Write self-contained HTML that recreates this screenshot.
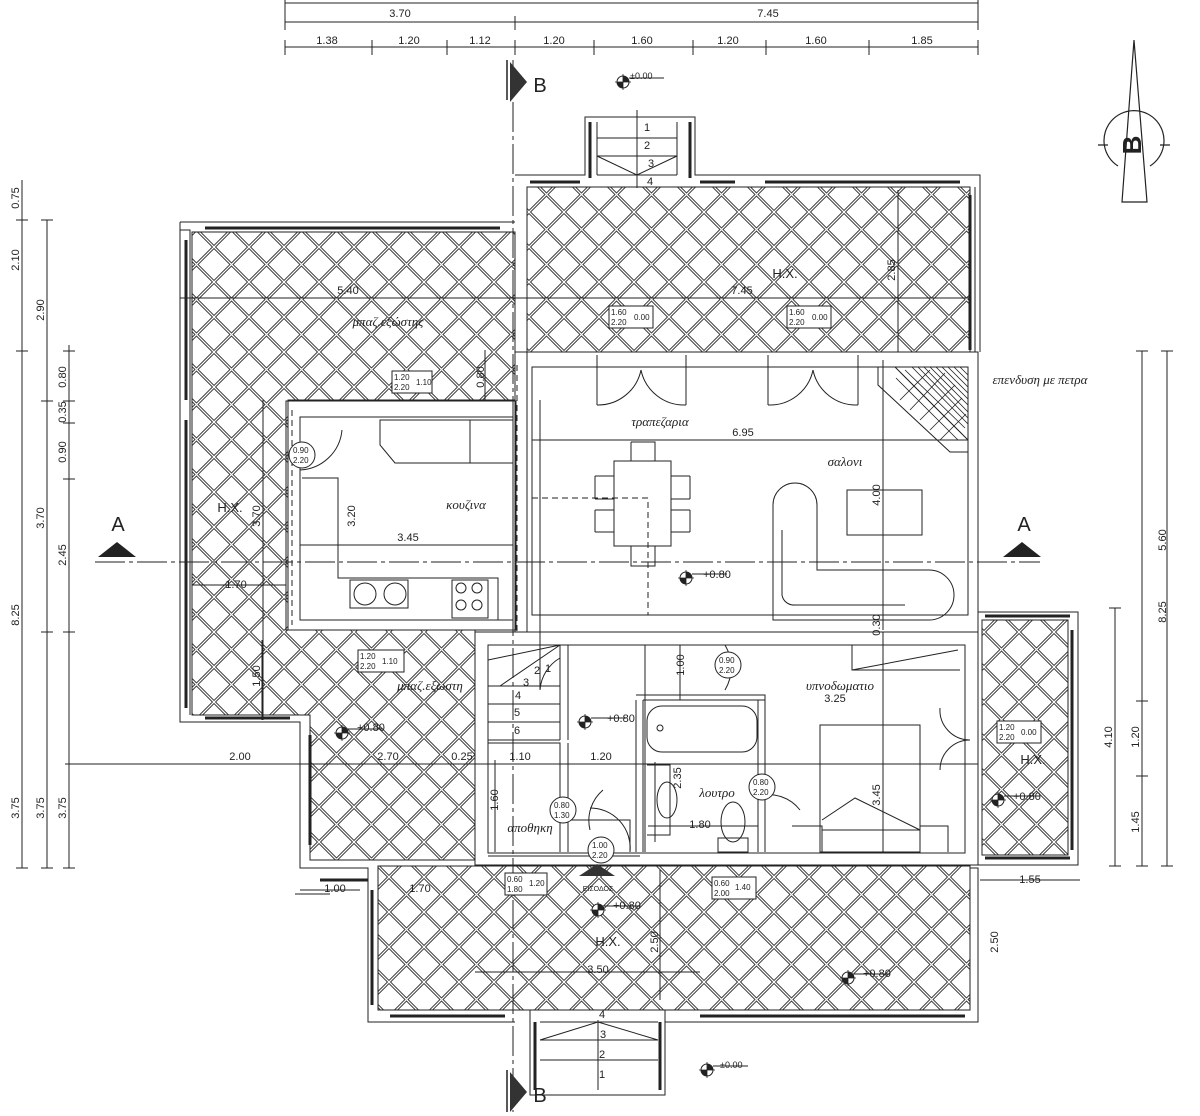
<!DOCTYPE html>
<html><head><meta charset="utf-8"><style>
html,body{margin:0;padding:0;background:#fff;}
svg{display:block;}
text{font-family:"Liberation Sans",sans-serif;fill:#222;}
.g{font-family:"Liberation Serif","DejaVu Serif",serif;font-style:italic;}
</style></head><body>
<svg width="1200" height="1116" viewBox="0 0 1200 1116" xmlns="http://www.w3.org/2000/svg">
<defs>
<pattern id="h" width="35" height="35" patternUnits="userSpaceOnUse" x="4" y="2">
<path d="M0,0L35,35M35,0L0,35M-5,30L5,40M30,-5L40,5M-5,5L5,-5M30,40L40,30" stroke="#3a3a3a" stroke-width="3.2" fill="none"/>
<path d="M0,0L35,35M35,0L0,35M-5,30L5,40M30,-5L40,5M-5,5L5,-5M30,40L40,30" stroke="#fff" stroke-width="1.2" fill="none"/>
</pattern>
<g id="lv"><circle r="6" fill="#fff" stroke="#222"/><path d="M0,-6A6,6 0 0 1 6,0H0Z M0,6A6,6 0 0 1 -6,0H0Z" fill="#222"/><path d="M-8,0H8M0,-8V8" stroke="#222" stroke-width="0.8"/></g>
</defs>
<g fill="none" stroke="#222" stroke-width="1">
<path fill="url(#h)" stroke="#222" d="M527,187H970V352H527Z"/>
<path fill="url(#h)" stroke="#222" d="M192,232H515V400H288V630H475V860H310V715H192Z"/>
<path fill="url(#h)" stroke="#222" d="M378,866H970V1010H378Z"/>
<path fill="url(#h)" stroke="#222" d="M982,620H1068V855H982Z"/>
<path d="M180,222H515M192,232V715M180,222V722H300V868H368V1022H515M180,230H190V715"/>
<path d="M192,232H515" />
<path stroke-width="3" d="M205,228H500M186,240V400M186,420V708M205,718H290M310,735V845M320,880H368M372,890V1005M390,1016H505M700,1016H965"/>
<path d="M515,175H585V117H695V175H980V352M585,117V175M695,117V175M975,187V352"/>
<path stroke-width="3" d="M530,182H580M590,122V178M690,122V178M700,182H735M765,182H960M970,195V350"/>
<path d="M515,1010H530V1095H665V1010H970V868H978V1022H665M530,1022V1095"/>
<path stroke-width="3" d="M535,1022V1090M660,1022V1090"/>
<path d="M978,612H1078V865H978M1068,620V855"/>
<path stroke-width="3" d="M985,616H1070M1072,630V850M985,858H1070"/>
<rect x="286" y="401" width="230" height="229"/>
<rect x="300" y="417" width="213" height="203"/>
<rect x="515" y="352" width="463" height="280"/>
<rect x="532" y="367" width="436" height="248"/>
<rect x="475" y="632" width="503" height="233"/>
<rect x="488" y="645" width="477" height="208"/>
<path d="M515,352V632M527,352V632"/>
<path d="M643,700H758V852M643,700V852M636,700V852M636,695H765V852M758,700H765"/>
<path d="M488,743H560V852M560,743V852M568,743V852M568,820H630V852M630,820V852"/>
<path d="M560,645V740M568,645V740M488,740H560"/>
<path d="M488,645V740M488,686H560M488,704H560M488,722H560M560,645L488,660M560,645L500,686M560,645L525,645"/>
<path d="M540,690A40,40 0 0 1 560,658"/>
<path d="M597,122V175M677,122V175M597,138H677M597,156H677M597,156L637,175L677,156M637,110V188M597,175H677"/>
<path d="M540,1022H658M540,1040H658M540,1060H658M540,1040L598,1022L658,1040M598,1020V1090"/>
<path d="M380,420H513V463H395L380,445Z M470,420V463 M302,478H338V578H498V620 M338,478V578 M350,580H408V608H350Z M452,580H488V618H452Z"/>
<circle cx="365" cy="594" r="11"/><circle cx="395" cy="594" r="11"/>
<circle cx="461" cy="588" r="5"/><circle cx="477" cy="588" r="5"/><circle cx="461" cy="605" r="5"/><circle cx="477" cy="605" r="5"/>
<rect x="614" y="461" width="57" height="85"/>
<path d="M631,442H655V461M631,442V461M631,546V566H655V546M595,476H614M595,499H614M595,510H614M595,532H614M671,476H690M671,499H690M671,510H690M671,532H690M595,476V499M595,510V532M690,476V499M690,510V532"/>
<path stroke-dasharray="6,4" d="M532,498H648V615M517,365V632M292,410V625"/>
<path d="M773,620H929A17,17 0 0 0 929,570H817V505A22,22 0 0 0 773,505Z M782,530V595A12,12 0 0 0 795,605H905"/>
<rect x="847" y="490" width="75" height="45"/>
<path d="M878,367V385L950,452H968M895,367L968,440"/>
<path stroke-width="0.8" d="M900,372L962,434M905,370L965,428M912,367L968,424M918,367L968,418M924,367L968,412M930,367L968,405M936,367L968,399M942,367L968,393M948,367L968,387M954,367L968,381M960,367L968,375M896,378L958,440"/>
<path stroke-width="0.8" d="M900,400L930,370M910,410L945,373M920,420L955,385M930,430L962,398M940,440L966,414"/>
<path d="M597,355V405M686,355V405M768,355V405M858,355V405"/>
<path d="M597,405A44,44 0 0 0 641,370M686,405A44,44 0 0 1 641,370M768,405A44,44 0 0 0 813,370M858,405A44,44 0 0 1 813,370"/>
<rect x="647" y="706" width="110" height="46" rx="15"/>
<circle cx="660" cy="728" r="3"/>
<path d="M647,765H670V835H647M655,765V835"/>
<ellipse cx="667" cy="800" rx="10" ry="18"/>
<ellipse cx="733" cy="822" rx="12" ry="20"/>
<rect x="718" y="838" width="30" height="14"/>
<rect x="820" y="725" width="100" height="127"/>
<path d="M822,820L855,798L920,830M822,830H920M792,826H822V852M920,826H948V852M852,645H960M852,645V670H960"/>
<path d="M852,670L958,650"/>
<path d="M342,430A44,44 0 0 1 300,470"/>
<path d="M725,645A44,44 0 0 1 725,690M758,796A40,40 0 0 1 800,810M590,830A40,40 0 0 1 603,790M590,808A40,40 0 0 1 630,852M940,708A30,30 0 0 0 970,740M940,770A30,30 0 0 1 970,740"/>
<path d="M285,3H978M285,22H978M285,47H978"/>
<path d="M285,0V30M515,16V30M978,0V30M285,40V55M372,40V55M447,40V55M515,40V55M594,40V55M693,40V55M766,40V55M869,40V55M978,40V55"/>
<path d="M22,180V868M47,220V868M69,345V868M16,220H28M16,351H28M16,868H28M41,220H53M41,401H53M41,632H53M41,868H53M63,351H75M63,401H75M63,423H75M63,479H75M63,632H75M63,868H75"/>
<path d="M1115,608V866M1142,351V866M1167,351V866M1109,608H1121M1109,866H1121M1136,351H1148M1136,701H1148M1136,776H1148M1136,866H1148M1161,351H1173M1161,866H1173"/>
<path d="M180,298H515M515,298H970M532,440H968M300,545H513M192,585H286M65,764H978M300,890H360M475,972H700M295,894H330M980,880H1080"/>
<path d="M898,190V352M883,360V630M883,632V852M495,760V852M488,856H640M540,400V690M645,645V852M648,826H758M263,400V720M262,640V720M485,350V400M655,762V842M680,645V700M660,870V1000"/>
<path stroke-dasharray="30,4,4,4" d="M513,60V1112M95,562H1040"/>
<path stroke-width="1.5" d="M507,60V100M507,1070V1112"/>
</g>
<polygon points="510,62 527,82 510,102" fill="#333"/>
<polygon points="510,1072 527,1092 510,1112" fill="#333"/>
<polygon points="98,557 117,542 136,557" fill="#222"/>
<polygon points="1003,557 1022,542 1041,557" fill="#222"/>
<polygon points="579,876 597,864 615,876" fill="#333"/>
<g fill="none" stroke="#222" stroke-width="1.2">
<polygon points="1134,40 1122,202 1147,202" fill="#fff"/>
<path d="M1118,166A30,30 0 1 1 1150,166M1098,145H1108M1160,145H1170"/>
</g>
<text x="1134" y="152" font-size="26" font-weight="bold" text-anchor="middle" transform="rotate(-90 1134 145)">B</text>
<use href="#lv" x="623" y="82"/><use href="#lv" x="342" y="733"/><use href="#lv" x="585" y="722"/><use href="#lv" x="686" y="578"/><use href="#lv" x="998" y="800"/><use href="#lv" x="598" y="910"/><use href="#lv" x="848" y="978"/><use href="#lv" x="707" y="1070"/>
<g stroke="#222" fill="none">
<path d="M629,78H664M348,729H383M591,718H626M692,574H727M1004,796H1040M604,906H640M854,974H890M713,1066H748"/>
</g>
<g font-size="11" text-anchor="middle">
<text x="400" y="17">3.70</text><text x="768" y="17">7.45</text>
<text x="327" y="44">1.38</text><text x="409" y="44">1.20</text><text x="480" y="44">1.12</text><text x="554" y="44">1.20</text><text x="642" y="44">1.60</text><text x="728" y="44">1.20</text><text x="816" y="44">1.60</text><text x="922" y="44">1.85</text>
<text x="348" y="294">5.40</text><text x="742" y="294">7.45</text><text x="743" y="436">6.95</text><text x="408" y="541">3.45</text><text x="236" y="588">1.70</text>
<text x="240" y="760">2.00</text><text x="388" y="760">2.70</text><text x="462" y="760">0.25</text><text x="520" y="760">1.10</text><text x="601" y="760">1.20</text>
<text x="700" y="828">1.80</text><text x="835" y="702">3.25</text>
<text x="335" y="892">1.00</text><text x="420" y="892">1.70</text><text x="598" y="973">3.50</text><text x="1030" y="883">1.55</text>
<text x="630" y="79" font-size="9" text-anchor="start">±0.00</text><text x="720" y="1068" font-size="9" text-anchor="start">±0.00</text>
<text x="607" y="722" text-anchor="start">+0.80</text><text x="703" y="578" text-anchor="start">+0.80</text><text x="357" y="731" text-anchor="start">+0.80</text><text x="1013" y="800" text-anchor="start">+0.80</text><text x="613" y="909" text-anchor="start">+0.80</text><text x="863" y="977" text-anchor="start">+0.80</text>
</g>
<g font-size="11" text-anchor="middle">
<text transform="translate(19,198) rotate(-90)">0.75</text><text transform="translate(19,260) rotate(-90)">2.10</text><text transform="translate(19,615) rotate(-90)">8.25</text><text transform="translate(19,808) rotate(-90)">3.75</text>
<text transform="translate(44,310) rotate(-90)">2.90</text><text transform="translate(44,518) rotate(-90)">3.70</text><text transform="translate(44,808) rotate(-90)">3.75</text>
<text transform="translate(66,377) rotate(-90)">0.80</text><text transform="translate(66,412) rotate(-90)">0.35</text><text transform="translate(66,452) rotate(-90)">0.90</text><text transform="translate(66,555) rotate(-90)">2.45</text><text transform="translate(66,808) rotate(-90)">3.75</text>
<text transform="translate(1166,540) rotate(-90)">5.60</text><text transform="translate(1166,612) rotate(-90)">8.25</text><text transform="translate(1112,737) rotate(-90)">4.10</text><text transform="translate(1139,737) rotate(-90)">1.20</text><text transform="translate(1139,822) rotate(-90)">1.45</text>
<text transform="translate(895,270) rotate(-90)">2.85</text><text transform="translate(880,495) rotate(-90)">4.00</text><text transform="translate(880,625) rotate(-90)">0.30</text><text transform="translate(880,795) rotate(-90)">3.45</text>
<text transform="translate(260,516) rotate(-90)">3.70</text><text transform="translate(355,516) rotate(-90)">3.20</text><text transform="translate(260,676) rotate(-90)">1.50</text><text transform="translate(484,377) rotate(-90)">0.80</text>
<text transform="translate(684,665) rotate(-90)">1.00</text><text transform="translate(498,800) rotate(-90)">1.60</text><text transform="translate(681,778) rotate(-90)">2.35</text><text transform="translate(658,942) rotate(-90)">2.50</text><text transform="translate(998,942) rotate(-90)">2.50</text>
</g>
<g font-size="13" class="g" text-anchor="middle">
<text class="g" x="388" y="326">μπαζ.εξώστης</text>
<text class="g" x="660" y="426">τραπεζαρια</text>
<text class="g" x="845" y="466">σαλονι</text>
<text class="g" x="466" y="509">κουζινα</text>
<text class="g" x="430" y="690">μπαζ.εξωστη</text>
<text class="g" x="840" y="690">υπνοδωματιο</text>
<text class="g" x="717" y="797">λουτρο</text>
<text class="g" x="530" y="832">αποθηκη</text>
<text class="g" x="1040" y="384">επενδυση με πετρα</text>
</g>
<g font-size="13" text-anchor="middle">
<text x="230" y="512">H.X.</text><text x="785" y="278">H.X.</text><text x="1033" y="764">H.X.</text><text x="608" y="946">H.X.</text>
<text x="118" y="531" font-size="20">A</text><text x="1024" y="531" font-size="20">A</text>
<text x="540" y="92" font-size="20">B</text><text x="540" y="1102" font-size="20">B</text>
<text x="598" y="891" font-size="7">ΕΙΣΟΔΟΣ</text>
</g>
<g font-size="11" text-anchor="middle">
<text x="647" y="131">1</text><text x="647" y="149">2</text><text x="651" y="167">3</text><text x="650" y="185">4</text>
<text x="602" y="1018">4</text><text x="603" y="1038">3</text><text x="602" y="1058">2</text><text x="602" y="1078">1</text>
<text x="548" y="672">1</text><text x="537" y="674">2</text><text x="526" y="686">3</text><text x="518" y="699">4</text><text x="517" y="716">5</text><text x="517" y="734">6</text>
</g>
<g font-size="8" stroke="#222" fill="none">
<rect x="392" y="371" width="40" height="22" fill="#fff"/><rect x="609" y="306" width="44" height="22" fill="#fff"/><rect x="787" y="306" width="44" height="22" fill="#fff"/>
<rect x="358" y="650" width="46" height="22" fill="#fff"/><rect x="997" y="721" width="44" height="22" fill="#fff"/>
<rect x="505" y="873" width="42" height="22" fill="#fff"/><rect x="712" y="877" width="44" height="22" fill="#fff"/>
<ellipse cx="302" cy="455" rx="13" ry="13" fill="#fff"/><ellipse cx="728" cy="665" rx="13" ry="13" fill="#fff"/><ellipse cx="762" cy="787" rx="13" ry="13" fill="#fff"/><ellipse cx="563" cy="810" rx="13" ry="13" fill="#fff"/><ellipse cx="601" cy="850" rx="13" ry="13" fill="#fff"/>
</g>
<g font-size="8">
<text x="394" y="380">1.20</text><text x="394" y="390">2.20</text><text x="416" y="385">1.10</text>
<text x="611" y="315">1.60</text><text x="611" y="325">2.20</text><text x="634" y="320">0.00</text>
<text x="789" y="315">1.60</text><text x="789" y="325">2.20</text><text x="812" y="320">0.00</text>
<text x="360" y="659">1.20</text><text x="360" y="669">2.20</text><text x="382" y="664">1.10</text>
<text x="999" y="730">1.20</text><text x="999" y="740">2.20</text><text x="1021" y="735">0.00</text>
<text x="507" y="882">0.60</text><text x="507" y="892">1.80</text><text x="529" y="886">1.20</text>
<text x="714" y="886">0.60</text><text x="714" y="896">2.00</text><text x="735" y="890">1.40</text>
<text x="293" y="453">0.90</text><text x="293" y="463">2.20</text>
<text x="719" y="663">0.90</text><text x="719" y="673">2.20</text>
<text x="753" y="785">0.80</text><text x="753" y="795">2.20</text>
<text x="554" y="808">0.80</text><text x="554" y="818">1.30</text>
<text x="592" y="848">1.00</text><text x="592" y="858">2.20</text>
</g>
</svg>
</body></html>
